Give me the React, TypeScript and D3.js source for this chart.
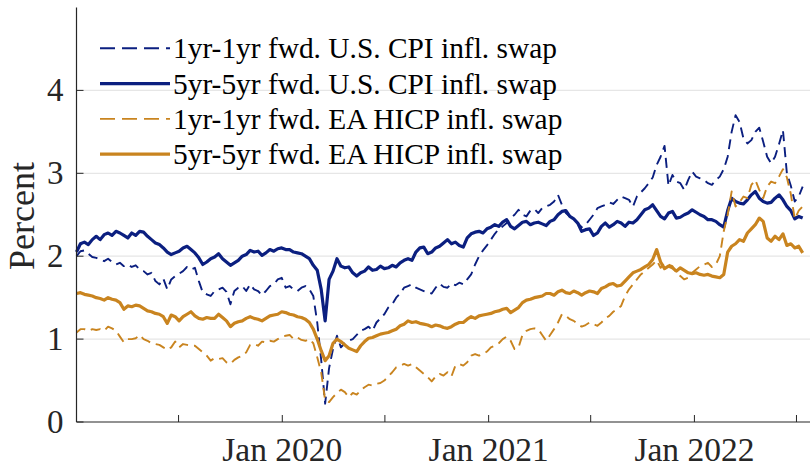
import React from 'react';
import * as d3 from 'd3';

// ---- data (weekly samples starting 2019-01-01, percent) ----
const START_DATE = new Date(2019, 0, 1);
const STEP_DAYS = 7;
const X_DOMAIN_END = new Date(2022, 6, 25);

const usFwd1y1y = [
  2.0, 2.06, 2.07, 2.03, 1.99, 1.98, 1.96, 1.94, 1.97, 1.93,
  1.9, 1.92, 1.88, 1.9, 1.87, 1.89, 1.84, 1.82, 1.78, 1.8,
  1.7, 1.66, 1.73, 1.6, 1.72, 1.76, 1.79, 1.82, 1.87, 1.84,
  1.86, 1.7, 1.56, 1.54, 1.52, 1.58, 1.6, 1.62, 1.57, 1.42,
  1.58, 1.62, 1.64, 1.58, 1.66, 1.6, 1.58, 1.53, 1.58, 1.64,
  1.66, 1.72, 1.74, 1.62, 1.64, 1.6, 1.58, 1.62, 1.64, 1.6,
  1.52, 1.2, 0.75, 0.22, 0.65, 0.88, 1.04, 0.9, 0.95, 0.98,
  1.0, 1.05, 1.1, 1.12, 1.15, 1.1, 1.2, 1.25, 1.3, 1.38,
  1.42, 1.5, 1.55, 1.62, 1.64, 1.66, 1.62, 1.6, 1.58, 1.56,
  1.55, 1.62, 1.67, 1.63, 1.62, 1.67, 1.65, 1.68, 1.66, 1.72,
  1.78, 1.9, 2.0, 2.07, 2.13, 2.2, 2.27, 2.33, 2.36, 2.4,
  2.46, 2.5, 2.56, 2.5, 2.48, 2.55, 2.57, 2.52, 2.58, 2.6,
  2.62, 2.66, 2.74, 2.62, 2.52, 2.48, 2.45, 2.4, 2.35, 2.38,
  2.44, 2.5, 2.58, 2.6, 2.62, 2.65, 2.63, 2.68, 2.72, 2.7,
  2.68, 2.6, 2.72, 2.77, 2.82, 2.88, 2.95, 3.1, 3.2, 3.33,
  2.85, 2.98, 2.9, 2.88, 2.8, 2.92, 3.02, 2.96, 2.94, 2.92,
  2.88, 2.86, 2.92, 2.96, 3.05, 3.2, 3.5, 3.7, 3.62, 3.42,
  3.36, 3.4, 3.5, 3.55, 3.38, 3.2, 3.12, 3.2, 3.35, 3.52,
  3.0, 2.85, 2.66, 2.72, 2.84,
];

const usFwd5y5y = [
  2.05, 2.15, 2.17, 2.14, 2.2, 2.24, 2.2, 2.26, 2.28, 2.25,
  2.3, 2.28, 2.25, 2.22, 2.28, 2.25, 2.3, 2.29, 2.24, 2.2,
  2.16, 2.14, 2.1, 2.05, 2.02, 2.04, 2.06, 2.1, 2.12, 2.08,
  2.04, 1.98, 1.9, 1.93, 1.97, 1.99, 2.03, 1.97, 1.93, 1.89,
  1.92, 1.95, 2.0, 2.02, 2.07, 2.05, 2.06, 2.01, 2.04, 2.08,
  2.06, 2.09, 2.1, 2.08, 2.08, 2.05, 2.04, 2.03, 2.0, 1.97,
  1.89, 1.83, 1.6, 1.22, 1.72, 1.82, 1.97, 1.88, 1.86, 1.87,
  1.8, 1.76, 1.8, 1.82, 1.87, 1.83, 1.84, 1.88, 1.85, 1.86,
  1.89, 1.87, 1.92, 1.95, 1.97, 1.95, 2.05, 2.1, 2.11, 2.03,
  2.05, 2.1, 2.12, 2.16, 2.2, 2.15, 2.17, 2.13, 2.11, 2.22,
  2.27, 2.29, 2.3, 2.28, 2.33, 2.35, 2.38, 2.36, 2.41, 2.44,
  2.36, 2.33, 2.37, 2.41, 2.42, 2.38, 2.4, 2.41, 2.39, 2.37,
  2.42, 2.44, 2.5, 2.54, 2.55, 2.48, 2.45, 2.4, 2.3, 2.32,
  2.33, 2.25, 2.28, 2.36, 2.4, 2.35, 2.38, 2.42, 2.4, 2.36,
  2.41, 2.4, 2.44, 2.5, 2.56, 2.58, 2.62, 2.55, 2.48, 2.45,
  2.52, 2.54, 2.46, 2.47, 2.5, 2.52, 2.56, 2.53, 2.5, 2.48,
  2.44, 2.44, 2.42, 2.38, 2.35, 2.55, 2.7, 2.66, 2.64, 2.63,
  2.68, 2.74, 2.78, 2.7, 2.66, 2.64, 2.65, 2.7, 2.74, 2.68,
  2.6, 2.55, 2.45, 2.48, 2.46,
];

const eaFwd1y1y = [
  1.08, 1.12, 1.12, 1.1, 1.12, 1.11, 1.12, 1.1, 1.15, 1.13,
  1.1, 1.03, 0.96, 1.0, 1.0, 1.01, 1.05, 1.0, 0.98, 0.95,
  0.94, 0.93, 0.9, 0.87, 0.9, 0.97, 0.9, 0.94, 0.93, 0.92,
  0.92, 0.88, 0.84, 0.8, 0.74, 0.77, 0.76, 0.77, 0.72, 0.7,
  0.75, 0.78, 0.8, 0.84, 0.93, 0.94, 0.92, 0.97, 0.96, 0.98,
  0.97, 1.0, 1.03, 1.04, 1.05, 1.0, 1.02, 0.99, 0.98, 1.0,
  0.95, 0.78, 0.6, 0.26, 0.24, 0.3, 0.35, 0.39, 0.36, 0.3,
  0.35, 0.33, 0.38, 0.42, 0.45, 0.44, 0.46, 0.47, 0.5, 0.55,
  0.6, 0.66, 0.68, 0.7, 0.68, 0.7, 0.66, 0.62, 0.58, 0.54,
  0.49, 0.55, 0.58, 0.56, 0.6, 0.55, 0.68, 0.7, 0.68, 0.72,
  0.8, 0.82, 0.8, 0.82, 0.85, 0.9, 0.92, 0.95, 1.0, 1.03,
  0.98, 0.88, 0.9, 1.05, 1.1, 1.12, 1.13, 1.12, 1.05, 0.98,
  1.05, 1.12, 1.2, 1.3, 1.28, 1.24, 1.22, 1.18, 1.15, 1.17,
  1.2, 1.18, 1.16, 1.2, 1.25, 1.28, 1.33, 1.36, 1.4, 1.52,
  1.6, 1.66, 1.72, 1.78, 1.82, 1.86, 1.9, 1.95, 1.86, 1.92,
  1.9, 1.88, 1.8, 1.76, 1.72, 1.74, 1.8, 1.84, 1.88, 1.9,
  1.92, 1.87, 1.9, 2.0, 2.3, 2.5, 2.78, 2.6, 2.65, 2.72,
  2.7, 2.86, 2.92, 2.8, 2.7, 2.84, 2.9, 2.88, 2.96, 3.05,
  2.95, 2.75, 2.45, 2.55, 2.6,
];

const eaFwd5y5y = [
  1.55, 1.56, 1.54, 1.53, 1.52, 1.5, 1.49, 1.47, 1.5, 1.48,
  1.47, 1.44, 1.36, 1.4, 1.39, 1.41, 1.4, 1.37, 1.34, 1.33,
  1.31, 1.3, 1.27, 1.19, 1.29, 1.27, 1.22, 1.27, 1.3, 1.33,
  1.28, 1.25, 1.24, 1.26, 1.25, 1.25, 1.3, 1.26, 1.22, 1.15,
  1.19, 1.21, 1.22, 1.25, 1.27, 1.25, 1.24, 1.22, 1.25, 1.28,
  1.29, 1.3, 1.33, 1.32, 1.3, 1.29, 1.27, 1.26, 1.24, 1.2,
  1.12, 1.0, 0.86, 0.74, 0.8, 0.95, 1.0, 0.97, 0.93, 0.89,
  0.87, 0.85, 0.92, 0.97, 1.01, 1.02, 1.04, 1.06, 1.07, 1.08,
  1.1, 1.12, 1.16, 1.18, 1.22, 1.2, 1.21, 1.19, 1.18, 1.17,
  1.15, 1.17, 1.16, 1.14, 1.13, 1.15, 1.18, 1.2, 1.2, 1.24,
  1.27, 1.25, 1.28, 1.29, 1.3, 1.31, 1.33, 1.34, 1.36, 1.37,
  1.32, 1.35, 1.38, 1.44, 1.47, 1.48, 1.5, 1.51, 1.52, 1.55,
  1.55, 1.53, 1.57, 1.59, 1.56, 1.55, 1.58, 1.56, 1.53, 1.56,
  1.58, 1.57, 1.55, 1.61, 1.63, 1.66, 1.67, 1.64, 1.65, 1.7,
  1.75, 1.8, 1.82, 1.84, 1.87, 1.9, 1.96, 2.08, 1.93, 1.85,
  1.88, 1.86, 1.82, 1.86, 1.83, 1.8, 1.79, 1.8, 1.78, 1.77,
  1.78, 1.76, 1.75, 1.74, 1.78, 2.05, 2.12, 2.15, 2.2, 2.18,
  2.28, 2.33, 2.38, 2.46, 2.42, 2.22, 2.18, 2.24, 2.2, 2.27,
  2.13, 2.15, 2.1, 2.12, 2.04,
];

const seriesNames = [
  '1yr-1yr fwd. U.S. CPI infl. swap',
  '5yr-5yr fwd. U.S. CPI infl. swap',
  '1yr-1yr fwd. EA HICP infl. swap',
  '5yr-5yr fwd. EA HICP infl. swap',
];

const yTicks = [0, 1, 2, 3, 4];
const xTickDates = [
  new Date(2019, 6, 1), new Date(2020, 0, 1), new Date(2020, 6, 1),
  new Date(2021, 0, 1), new Date(2021, 6, 1), new Date(2022, 0, 1), new Date(2022, 6, 1),
];
const xTickLabels = ['', 'Jan 2020', '', 'Jan 2021', '', 'Jan 2022', ''];
const yLabel = 'Percent';

// ---- styling ----
const W = 810;
const H = 468;
const NAVY = '#0b1f80';
const GOLD = '#c9841f';
const AXIS = '#262626';
const FONT = "'Liberation Serif', 'Times New Roman', Times, serif";

export default function App() {
  const x = d3.scaleTime().domain([START_DATE, X_DOMAIN_END]).range([76.5, 810]);
  const y = d3.scaleLinear().domain([0, 5]).range([422, 7.5]);

  const dates = usFwd5y5y.map((_, i) => d3.timeDay.offset(START_DATE, i * STEP_DAYS));
  const line = d3
    .line<number>()
    .x((_, i) => x(dates[i]))
    .y((d) => y(d));

  const series = [
    { name: seriesNames[0], values: usFwd1y1y, color: NAVY, dashed: true },
    { name: seriesNames[1], values: usFwd5y5y, color: NAVY, dashed: false },
    { name: seriesNames[2], values: eaFwd1y1y, color: GOLD, dashed: true },
    { name: seriesNames[3], values: eaFwd5y5y, color: GOLD, dashed: false },
  ];

  const x0 = x.range()[0];
  const xR = x.range()[1];

  return (
    <svg
      width={W}
      height={H}
      style={{ position: 'absolute', left: 0, top: 0, background: '#fff', fontFamily: FONT }}
    >
      <rect x={0} y={0} width={W} height={H} fill="#fff" />
      {/* grid */}
      {yTicks.filter((t) => t > 0).map((t) => (
        <line key={'g' + t} x1={x0} x2={xR} y1={y(t)} y2={y(t)} stroke="#e6e6e6" strokeWidth={1.2} />
      ))}

      {/* series */}
      {series.map((s) => (
        <path
          key={s.name}
          d={line(s.values) || ''}
          fill="none"
          stroke={s.color}
          strokeWidth={s.dashed ? 1.9 : 3.2}
          strokeDasharray={s.dashed ? '10,6' : undefined}
          strokeLinejoin="round"
        />
      ))}

      {/* axes */}
      <line x1={x0} x2={x0} y1={y(5)} y2={y(0)} stroke={AXIS} strokeWidth={1.2} />
      <line x1={x0} x2={xR} y1={y(0)} y2={y(0)} stroke={AXIS} strokeWidth={1.2} />
      {yTicks.map((t) => (
        <g key={'y' + t}>
          <line x1={x0} x2={x0 + 7} y1={y(t)} y2={y(t)} stroke={AXIS} strokeWidth={1} />
          <text
            x={x0 - 13}
            y={y(t)}
            textAnchor="end"
            dominantBaseline="central"
            fontSize={33}
            fill={AXIS}
            style={{ fontFamily: FONT }}
          >
            {t}
          </text>
        </g>
      ))}
      {xTickDates.map((d, i) => (
        <g key={'x' + i}>
          <line x1={x(d)} x2={x(d)} y1={y(0)} y2={y(0) - 7} stroke={AXIS} strokeWidth={1} />
          {xTickLabels[i] && (
            <text
              x={x(d)}
              y={460.5}
              textAnchor="middle"
              fontSize={33.5}
              fill={AXIS}
              style={{ fontFamily: FONT }}
            >
              {xTickLabels[i]}
            </text>
          )}
        </g>
      ))}
      <text
        transform={`translate(34, 216) rotate(-90)`}
        textAnchor="middle"
        fontSize={36}
        fill={AXIS}
        style={{ fontFamily: FONT }}
      >
        {yLabel}
      </text>

      {/* legend */}
      {series.map((s, i) => {
        const ly = 48.3 + i * 35.3;
        return (
          <g key={'l' + i}>
            <line
              x1={100}
              x2={170}
              y1={ly}
              y2={ly}
              stroke={s.color}
              strokeWidth={s.dashed ? 1.9 : 3.2}
              strokeDasharray={s.dashed ? '15,7' : undefined}
            />
            <text
              x={173}
              y={ly}
              dominantBaseline="central"
              fontSize={29.4}
              fill="#000"
              style={{ fontFamily: FONT }}
            >
              {s.name}
            </text>
          </g>
        );
      })}
    </svg>
  );
}
